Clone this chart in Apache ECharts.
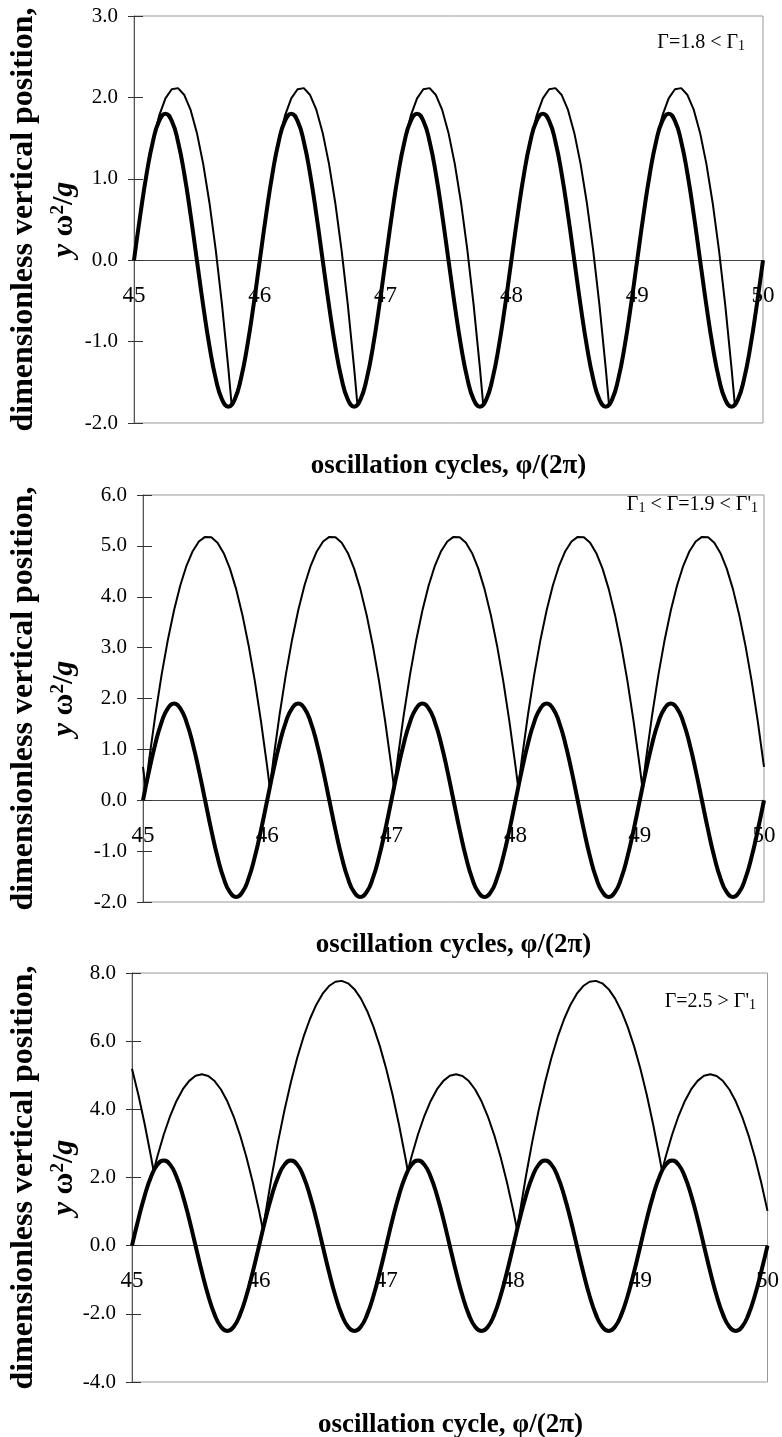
<!DOCTYPE html>
<html>
<head>
<meta charset="utf-8">
<script src="https://cdn.jsdelivr.net/npm/echarts@6/dist/echarts.min.js"></script>
<style>html,body{margin:0;padding:0;background:#fff}#c{width:782px;height:1437px}</style>
</head>
<body>
<div id="c"></div>
<script>
// ---------------- data ----------------
const cycles = [45,45.05,45.1,45.15,45.2,45.25,45.3,45.35,45.4,45.45,45.5,45.55,45.6,45.65,45.7,45.75,45.8,45.85,45.9,45.95,
46,46.05,46.1,46.15,46.2,46.25,46.3,46.35,46.4,46.45,46.5,46.55,46.6,46.65,46.7,46.75,46.8,46.85,46.9,46.95,
47,47.05,47.1,47.15,47.2,47.25,47.3,47.35,47.4,47.45,47.5,47.55,47.6,47.65,47.7,47.75,47.8,47.85,47.9,47.95,
48,48.05,48.1,48.15,48.2,48.25,48.3,48.35,48.4,48.45,48.5,48.55,48.6,48.65,48.7,48.75,48.8,48.85,48.9,48.95,
49,49.05,49.1,49.15,49.2,49.25,49.3,49.35,49.4,49.45,49.5,49.55,49.6,49.65,49.7,49.75,49.8,49.85,49.9,49.95,50];

// plate position (thick curves)
const plate1 = [0,0.556,1.058,1.456,1.712,1.8,1.712,1.456,1.058,0.556,0,-0.556,-1.058,-1.456,-1.712,-1.8,-1.712,-1.456,-1.058,-0.556,
0,0.556,1.058,1.456,1.712,1.8,1.712,1.456,1.058,0.556,0,-0.556,-1.058,-1.456,-1.712,-1.8,-1.712,-1.456,-1.058,-0.556,
0,0.556,1.058,1.456,1.712,1.8,1.712,1.456,1.058,0.556,0,-0.556,-1.058,-1.456,-1.712,-1.8,-1.712,-1.456,-1.058,-0.556,
0,0.556,1.058,1.456,1.712,1.8,1.712,1.456,1.058,0.556,0,-0.556,-1.058,-1.456,-1.712,-1.8,-1.712,-1.456,-1.058,-0.556,
0,0.556,1.058,1.456,1.712,1.8,1.712,1.456,1.058,0.556,0,-0.556,-1.058,-1.456,-1.712,-1.8,-1.712,-1.456,-1.058,-0.556,0];
const plate2 = [0,0.587,1.117,1.537,1.807,1.9,1.807,1.537,1.117,0.587,0,-0.587,-1.117,-1.537,-1.807,-1.9,-1.807,-1.537,-1.117,-0.587,
0,0.587,1.117,1.537,1.807,1.9,1.807,1.537,1.117,0.587,0,-0.587,-1.117,-1.537,-1.807,-1.9,-1.807,-1.537,-1.117,-0.587,
0,0.587,1.117,1.537,1.807,1.9,1.807,1.537,1.117,0.587,0,-0.587,-1.117,-1.537,-1.807,-1.9,-1.807,-1.537,-1.117,-0.587,
0,0.587,1.117,1.537,1.807,1.9,1.807,1.537,1.117,0.587,0,-0.587,-1.117,-1.537,-1.807,-1.9,-1.807,-1.537,-1.117,-0.587,
0,0.587,1.117,1.537,1.807,1.9,1.807,1.537,1.117,0.587,0,-0.587,-1.117,-1.537,-1.807,-1.9,-1.807,-1.537,-1.117,-0.587,0];
const plate3 = [0,0.773,1.469,2.023,2.378,2.5,2.378,2.023,1.469,0.773,0,-0.773,-1.469,-2.023,-2.378,-2.5,-2.378,-2.023,-1.469,-0.773,
0,0.773,1.469,2.023,2.378,2.5,2.378,2.023,1.469,0.773,0,-0.773,-1.469,-2.023,-2.378,-2.5,-2.378,-2.023,-1.469,-0.773,
0,0.773,1.469,2.023,2.378,2.5,2.378,2.023,1.469,0.773,0,-0.773,-1.469,-2.023,-2.378,-2.5,-2.378,-2.023,-1.469,-0.773,
0,0.773,1.469,2.023,2.378,2.5,2.378,2.023,1.469,0.773,0,-0.773,-1.469,-2.023,-2.378,-2.5,-2.378,-2.023,-1.469,-0.773,
0,0.773,1.469,2.023,2.378,2.5,2.378,2.023,1.469,0.773,0,-0.773,-1.469,-2.023,-2.378,-2.5,-2.378,-2.023,-1.469,-0.773,0];

// ball position (thin curves)
const ball1X = [45,45.05,45.1,45.15,45.2,45.25,45.3,45.35,45.4,45.45,45.5,45.55,45.6,45.65,45.7,45.75,45.776,45.8,45.85,45.9,45.95,
46,46.05,46.1,46.15,46.2,46.25,46.3,46.35,46.4,46.45,46.5,46.55,46.6,46.65,46.7,46.75,46.776,46.8,46.85,46.9,46.95,
47,47.05,47.1,47.15,47.2,47.25,47.3,47.35,47.4,47.45,47.5,47.55,47.6,47.65,47.7,47.75,47.776,47.8,47.85,47.9,47.95,
48,48.05,48.1,48.15,48.2,48.25,48.3,48.35,48.4,48.45,48.5,48.55,48.6,48.65,48.7,48.75,48.776,48.8,48.85,48.9,48.95,
49,49.05,49.1,49.15,49.2,49.25,49.3,49.35,49.4,49.45,49.5,49.55,49.6,49.65,49.7,49.75,49.776,49.8,49.85,49.9,49.95,50];
const ball1Y = [0,0.556,1.058,1.466,1.776,1.988,2.1,2.114,2.029,1.846,1.564,1.183,0.703,0.125,-0.552,-1.328,-1.776,-1.712,-1.456,-1.058,-0.556,
0,0.556,1.058,1.466,1.776,1.988,2.1,2.114,2.029,1.846,1.564,1.183,0.703,0.125,-0.552,-1.328,-1.776,-1.712,-1.456,-1.058,-0.556,
0,0.556,1.058,1.466,1.776,1.988,2.1,2.114,2.029,1.846,1.564,1.183,0.703,0.125,-0.552,-1.328,-1.776,-1.712,-1.456,-1.058,-0.556,
0,0.556,1.058,1.466,1.776,1.988,2.1,2.114,2.029,1.846,1.564,1.183,0.703,0.125,-0.552,-1.328,-1.776,-1.712,-1.456,-1.058,-0.556,
0,0.556,1.058,1.466,1.776,1.988,2.1,2.114,2.029,1.846,1.564,1.183,0.703,0.125,-0.552,-1.328,-1.776,-1.712,-1.456,-1.058,-0.556,0];

const ball2X = [45,45.021,45.05,45.1,45.15,45.2,45.25,45.3,45.35,45.4,45.45,45.5,45.55,45.6,45.65,45.7,45.75,45.8,45.85,45.9,45.95,
46,46.021,46.05,46.1,46.15,46.2,46.25,46.3,46.35,46.4,46.45,46.5,46.55,46.6,46.65,46.7,46.75,46.8,46.85,46.9,46.95,
47,47.021,47.05,47.1,47.15,47.2,47.25,47.3,47.35,47.4,47.45,47.5,47.55,47.6,47.65,47.7,47.75,47.8,47.85,47.9,47.95,
48,48.021,48.05,48.1,48.15,48.2,48.25,48.3,48.35,48.4,48.45,48.5,48.55,48.6,48.65,48.7,48.75,48.8,48.85,48.9,48.95,
49,49.021,49.05,49.1,49.15,49.2,49.25,49.3,49.35,49.4,49.45,49.5,49.55,49.6,49.65,49.7,49.75,49.8,49.85,49.9,49.95,50];
const ball2Y = [0.656,0.25,0.806,1.686,2.468,3.151,3.735,4.221,4.608,4.896,5.086,5.176,5.168,5.062,4.857,4.553,4.15,3.648,3.048,2.35,1.552,
0.656,0.25,0.806,1.686,2.468,3.151,3.735,4.221,4.608,4.896,5.086,5.176,5.168,5.062,4.857,4.553,4.15,3.648,3.048,2.35,1.552,
0.656,0.25,0.806,1.686,2.468,3.151,3.735,4.221,4.608,4.896,5.086,5.176,5.168,5.062,4.857,4.553,4.15,3.648,3.048,2.35,1.552,
0.656,0.25,0.806,1.686,2.468,3.151,3.735,4.221,4.608,4.896,5.086,5.176,5.168,5.062,4.857,4.553,4.15,3.648,3.048,2.35,1.552,
0.656,0.25,0.806,1.686,2.468,3.151,3.735,4.221,4.608,4.896,5.086,5.176,5.168,5.062,4.857,4.553,4.15,3.648,3.048,2.35,1.552,0.656];

const ball3X = [45,45.05,45.1,45.15,45.17,45.2,45.25,45.3,45.35,45.4,45.45,45.5,45.55,45.6,45.65,45.7,45.75,45.8,45.85,45.9,45.95,46,
46.03,46.05,46.1,46.15,46.2,46.25,46.3,46.35,46.4,46.45,46.5,46.55,46.6,46.65,46.7,46.75,46.8,46.85,46.9,46.95,
47,47.05,47.1,47.15,47.17,47.2,47.25,47.3,47.35,47.4,47.45,47.5,47.55,47.6,47.65,47.7,47.75,47.8,47.85,47.9,47.95,48,
48.03,48.05,48.1,48.15,48.2,48.25,48.3,48.35,48.4,48.45,48.5,48.55,48.6,48.65,48.7,48.75,48.8,48.85,48.9,48.95,
49,49.05,49.1,49.15,49.17,49.2,49.25,49.3,49.35,49.4,49.45,49.5,49.55,49.6,49.65,49.7,49.75,49.8,49.85,49.9,49.95,50];
const ball3Y = [5.189,4.426,3.564,2.603,2.191,2.622,3.263,3.804,4.247,4.591,4.836,4.983,5.03,4.98,4.83,4.582,4.235,3.789,3.245,2.602,1.86,1.02,
0.468,0.94,2.052,3.066,3.98,4.796,5.513,6.131,6.651,7.072,7.394,7.618,7.743,7.769,7.697,7.525,7.256,6.887,6.42,5.854,
5.189,4.426,3.564,2.603,2.191,2.622,3.263,3.804,4.247,4.591,4.836,4.983,5.03,4.98,4.83,4.582,4.235,3.789,3.245,2.602,1.86,1.02,
0.468,0.94,2.052,3.066,3.98,4.796,5.513,6.131,6.651,7.072,7.394,7.618,7.743,7.769,7.697,7.525,7.256,6.887,6.42,5.854,
5.189,4.426,3.564,2.603,2.191,2.622,3.263,3.804,4.247,4.591,4.836,4.983,5.03,4.98,4.83,4.582,4.235,3.789,3.245,2.602,1.86,1.02];

const yRanges = [[-2, 3, 1], [-2, 6, 1], [-4, 8, 2]];
const xTitles = ['oscillation cycles, \u03c6/(2\u03c0)', 'oscillation cycles, \u03c6/(2\u03c0)', 'oscillation cycle, \u03c6/(2\u03c0)'];
const panelNotes = ['\u0393=1.8 < \u0393{s|1}', '\u0393{s|1} < \u0393=1.9 < \u0393\'{s|1}', '\u0393=2.5 > \u0393\'{s|1}'];
const yTitle1 = 'dimensionless vertical position,';
const yTitle2 = '{i|y} \u03c9{p|2}/{i|g}';

// ---------------- layout ----------------
const FONT = 'Liberation Serif';
const grids = [
  {left: 134, top: 16, width: 629, height: 407},
  {left: 143, top: 495, width: 621, height: 407},
  {left: 132, top: 973, width: 637, height: 409}
];
const notePos = [[745, 43], [758, 505], [756, 1002]];

const pair = (xs, ys) => xs.map((x, i) => [x, ys[i]]);

const xAxis = [], yAxis = [], series = [], graphic = [];
grids.forEach((g, i) => {
  const [mn, mx, iv] = yRanges[i];
  const zeroUp = g.height * (0 - mn) / (mx - mn);
  xAxis.push({
    gridIndex: i, type: 'value', min: 45, max: 50, interval: 1, position: 'bottom', offset: -zeroUp,
    axisLine: {onZero: false, lineStyle: {color: '#444', width: 1}},
    axisTick: {show: false}, splitLine: {show: false},
    axisLabel: {color: '#000', fontSize: 23, fontFamily: FONT, margin: 24}
  });
  yAxis.push({
    gridIndex: i, type: 'value', min: mn, max: mx, interval: iv, position: 'left',
    axisLine: {show: true, lineStyle: {color: '#555', width: 1}},
    axisTick: {show: true, length: 6, lineStyle: {color: '#333'}},
    splitLine: {show: false},
    axisLabel: {color: '#000', fontSize: 21, fontFamily: FONT, margin: 16,
      formatter: v => v.toFixed(1)}
  });
  yAxis.push({
    gridIndex: i, type: 'value', min: mn, max: mx, interval: iv, position: 'left',
    axisLine: {show: false},
    axisTick: {show: true, inside: true, length: 9, lineStyle: {color: '#333'}},
    splitLine: {show: false}, axisLabel: {show: false}
  });
  // titles
  const cx = g.left + g.width / 2, cy = g.top + g.height / 2;
  graphic.push({
    type: 'text', x: cx, y: g.top + g.height + 43,
    style: {text: xTitles[i], fill: '#000', font: 'bold 27px "Liberation Serif"', align: 'center', verticalAlign: 'middle'}
  });
  graphic.push({
    type: 'text', x: 24, y: cy, rotation: Math.PI / 2,
    style: {text: yTitle1, fill: '#000', font: 'bold 32px "Liberation Serif"', align: 'center', verticalAlign: 'middle'}
  });
  graphic.push({
    type: 'text', x: 64, y: cy, rotation: Math.PI / 2,
    style: {text: yTitle2, fill: '#000', font: 'bold 30px "Liberation Serif"', align: 'center', verticalAlign: 'middle',
      rich: {
        i: {fontFamily: FONT, fontWeight: 'bold', fontStyle: 'italic', fontSize: 30, fill: '#000'},
        p: {fontFamily: FONT, fontWeight: 'bold', fontSize: 19, verticalAlign: 'top', fill: '#000'}
      }}
  });
  graphic.push({
    type: 'text', x: notePos[i][0], y: notePos[i][1],
    style: {text: panelNotes[i], fill: '#000', font: '20px "Liberation Serif"', align: 'right', verticalAlign: 'middle',
      rich: {s: {fontFamily: FONT, fontSize: 14, verticalAlign: 'bottom', fill: '#000'}}}
  });
});

const plates = [plate1, plate2, plate3];
const balls = [pair(ball1X, ball1Y), pair(ball2X, ball2Y), pair(ball3X, ball3Y)];
plates.forEach((p, i) => {
  series.push({
    type: 'line', xAxisIndex: i, yAxisIndex: 2 * i, data: pair(cycles, p),
    showSymbol: false, smooth: true, lineStyle: {color: '#000', width: 4}, silent: true, z: 3
  });
  series.push({
    type: 'line', xAxisIndex: i, yAxisIndex: 2 * i, data: balls[i],
    showSymbol: false, smooth: false, lineStyle: {color: '#000', width: 2}, silent: true, z: 4
  });
});

const chart = echarts.init(document.getElementById('c'), null, {renderer: 'canvas'});
chart.setOption({
  animation: false,
  backgroundColor: '#fff',
  grid: grids.map(g => Object.assign({show: true, borderColor: '#999', borderWidth: 1, backgroundColor: 'transparent'}, g)),
  xAxis, yAxis, series, graphic
});
</script>
</body>
</html>
